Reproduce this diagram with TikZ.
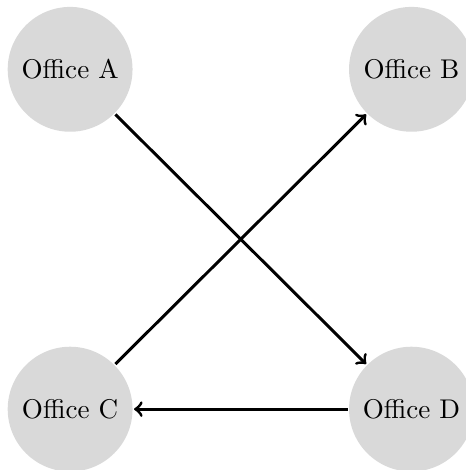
\documentclass[tikz,border=0pt]{standalone}
\usepackage{tikz}
\tikzset{office/.style={circle,fill=gray!30,minimum size=1.62cm,inner sep=0pt}}
\begin{document}
\begin{tikzpicture}[line width=1.1pt]
\useasboundingbox (0,0) rectangle (6.04,-6.10);
\node [office] (offA) at (0.91,-0.90) {Office A};
\node [office] (offB) at (5.34,-0.90) {Office B};
\node [office] (offC) at (0.91,-5.31) {Office C};
\node [office] (offD) at (5.34,-5.31) {Office D};
%
\draw [->] (offA) -- (offD);
\draw [->] (offC) -- (offB);
\draw [->] (offD) -- (offC);
\end{tikzpicture}
\end{document}
